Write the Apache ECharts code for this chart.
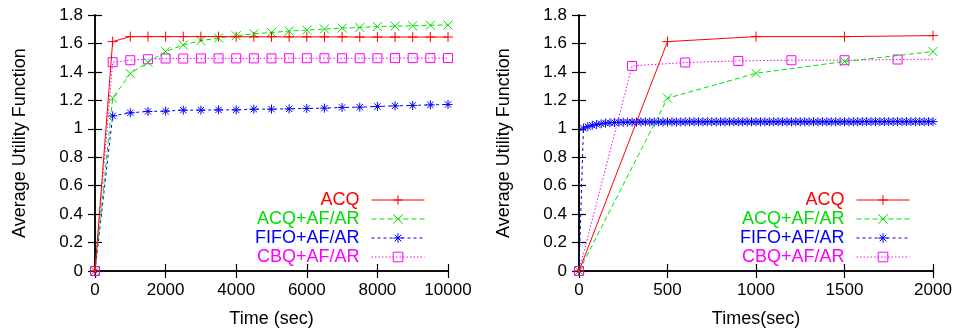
<!DOCTYPE html>
<html>
<head>
<meta charset="utf-8">
<script src="https://cdn.jsdelivr.net/npm/echarts@6/dist/echarts.min.js"></script>
<style>
  html, body { margin: 0; padding: 0; background: #fff; }
  #chart { width: 960px; height: 333px; }
</style>
</head>
<body>
<div id="chart"></div>
<script>
// left panel: samples every 500 s
const leftTimes = [0, 500, 1000, 1500, 2000, 2500, 3000, 3500, 4000, 4500, 5000,
  5500, 6000, 6500, 7000, 7500, 8000, 8500, 9000, 9500, 10000];
const leftAcq = [0, 1.613, 1.648, 1.648, 1.648, 1.648, 1.648, 1.648, 1.647, 1.647, 1.647,
  1.646, 1.646, 1.646, 1.646, 1.645, 1.645, 1.645, 1.645, 1.645, 1.645];
const leftAcqAf = [0, 1.215, 1.388, 1.468, 1.543, 1.589, 1.62, 1.638, 1.654, 1.668, 1.677,
  1.687, 1.694, 1.701, 1.708, 1.712, 1.719, 1.722, 1.724, 1.728, 1.73];
const leftFifo = [0, 1.091, 1.112, 1.122, 1.124, 1.131, 1.131, 1.133, 1.133, 1.138, 1.138,
  1.14, 1.143, 1.145, 1.15, 1.152, 1.157, 1.161, 1.164, 1.168, 1.171];
const leftCbq = [0, 1.468, 1.482, 1.489, 1.494, 1.494, 1.495, 1.495, 1.495, 1.495, 1.495,
  1.496, 1.496, 1.496, 1.496, 1.496, 1.496, 1.497, 1.497, 1.497, 1.497];

// right panel
const rightTimes = [0, 500, 1000, 1500, 2000];
const rightAcq = [0, 1.613, 1.648, 1.648, 1.655];
const rightAcqAf = [0, 1.215, 1.39, 1.473, 1.543];
const rightCbqTimes = [0, 300, 600, 900, 1200, 1500, 1800, 2100];
const rightCbq = [0, 1.442, 1.466, 1.477, 1.482, 1.482, 1.487, 1.49];
const rightFifoTimes = [0, 25, 50, 75, 100, 125, 150, 175, 200, 225, 250, 275, 300, 325, 350,
  375, 400, 425, 450, 475, 500, 525, 550, 575, 600, 625, 650, 675, 700, 725, 750, 775, 800,
  825, 850, 875, 900, 925, 950, 975, 1000, 1025, 1050, 1075, 1100, 1125, 1150, 1175, 1200,
  1225, 1250, 1275, 1300, 1325, 1350, 1375, 1400, 1425, 1450, 1475, 1500, 1525, 1550, 1575,
  1600, 1625, 1650, 1675, 1700, 1725, 1750, 1775, 1800, 1825, 1850, 1875, 1900, 1925, 1950,
  1975, 2000];
const rightFifo = [0, 1.005, 1.015, 1.025, 1.03, 1.035, 1.04, 1.042, 1.044, 1.045, 1.046,
  1.047, 1.047, 1.047, 1.048, 1.048, 1.048, 1.048, 1.048, 1.048, 1.048, 1.048, 1.048, 1.048,
  1.049, 1.049, 1.049, 1.049, 1.049, 1.049, 1.049, 1.049, 1.049, 1.049, 1.049, 1.049, 1.049,
  1.049, 1.049, 1.049, 1.049, 1.049, 1.049, 1.049, 1.049, 1.049, 1.049, 1.049, 1.049, 1.049,
  1.049, 1.049, 1.049, 1.049, 1.049, 1.049, 1.049, 1.049, 1.049, 1.049, 1.049, 1.049, 1.049,
  1.049, 1.05, 1.05, 1.05, 1.05, 1.05, 1.05, 1.05, 1.05, 1.05, 1.05, 1.05, 1.05, 1.05, 1.05,
  1.05, 1.05, 1.05];

const names = ['ACQ', 'ACQ+AF/AR', 'FIFO+AF/AR', 'CBQ+AF/AR'];
const colors = ['#ff0000', '#00e000', '#0000ff', '#ff00ff'];

const FONT = "'Liberation Sans', Arial, sans-serif";
const SYM = {
  plus: 'path://M0,5L10,5M5,0L5,10',
  cross: 'path://M0,0L10,10M10,0L0,10',
  star: 'path://M0,5L10,5M5,0L5,10M1.5,1.5L8.5,8.5M8.5,1.5L1.5,8.5',
  box: 'path://M0,0L10,0L10,10L0,10Z'
};
const styles = [
  { symbol: SYM.plus, size: 10, type: 'solid' },
  { symbol: SYM.cross, size: 9, type: [5, 3] },
  { symbol: SYM.star, size: 9, type: [3, 3] },
  { symbol: SYM.box, size: 9, type: [1.5, 2] }
];

const pairs = (xs, ys) => xs.map((x, i) => [x, ys[i]]);

function mkSeries(k, idx, data) {
  return {
    name: names[k],
    type: 'line',
    xAxisIndex: idx * 2,
    yAxisIndex: idx * 2,
    data: data,
    symbol: styles[k].symbol,
    symbolSize: styles[k].size,
    showAllSymbol: true,
    lineStyle: { color: colors[k], width: 1, type: styles[k].type },
    itemStyle: { color: 'rgba(0,0,0,0)', borderColor: colors[k], borderWidth: 1 },
    emphasis: { disabled: true },
    z: 10 - k
  };
}

const grids = [
  { left: 95, right: 512, top: 15, bottom: 60 },
  { left: 579, right: 27, top: 15, bottom: 60 }
];

const xCfg = [
  { max: 10000, interval: 2000, name: 'Time (sec)' },
  { max: 2000, interval: 500, name: 'Times(sec)' }
];

const xAxis = [], yAxis = [];
[0, 1].forEach(i => {
  xAxis.push({
    type: 'value', gridIndex: i, min: 0, max: xCfg[i].max, interval: xCfg[i].interval,
    name: xCfg[i].name, nameLocation: 'middle', nameGap: 39,
    nameTextStyle: { fontFamily: FONT, fontSize: 18, color: '#000' },
    axisLine: { show: true, onZero: false, lineStyle: { color: '#000', width: 1.5 } },
    axisTick: { inside: true, length: 7, lineStyle: { color: '#000', width: 1.2 } },
    axisLabel: { fontFamily: FONT, fontSize: 17, color: '#000', margin: 11, formatter: v => String(v) },
    splitLine: { show: false }
  });
  xAxis.push({
    type: 'value', gridIndex: i, position: 'top', min: 0, max: xCfg[i].max, interval: xCfg[i].interval,
    axisLine: { show: true, lineStyle: { color: '#000', width: 1.5 } },
    axisTick: { inside: true, length: 7, lineStyle: { color: '#000', width: 1.2 } },
    axisLabel: { show: false },
    splitLine: { show: false }
  });
  yAxis.push({
    type: 'value', gridIndex: i, min: 0, max: 1.8, interval: 0.2,
    name: 'Average Utility Function', nameLocation: 'middle', nameGap: 66,
    nameTextStyle: { fontFamily: FONT, fontSize: 18, color: '#000' },
    axisLine: { show: true, onZero: false, lineStyle: { color: '#000', width: 1.5 } },
    axisTick: { inside: true, length: 7, lineStyle: { color: '#000', width: 1.2 } },
    axisLabel: {
      fontFamily: FONT, fontSize: 17, color: '#000', margin: 12,
      formatter: v => String(+v.toFixed(1))
    },
    splitLine: { show: false }
  });
  yAxis.push({
    type: 'value', gridIndex: i, position: 'right', min: 0, max: 1.8, interval: 0.2,
    axisLine: { show: true, lineStyle: { color: '#000', width: 1.5 } },
    axisTick: { inside: true, length: 7, lineStyle: { color: '#000', width: 1.2 } },
    axisLabel: { show: false },
    splitLine: { show: false }
  });
});

const series = [
  mkSeries(0, 0, pairs(leftTimes, leftAcq)),
  mkSeries(1, 0, pairs(leftTimes, leftAcqAf)),
  mkSeries(2, 0, pairs(leftTimes, leftFifo)),
  mkSeries(3, 0, pairs(leftTimes, leftCbq)),
  mkSeries(0, 1, pairs(rightTimes, rightAcq)),
  mkSeries(1, 1, pairs(rightTimes, rightAcqAf)),
  mkSeries(2, 1, pairs(rightFifoTimes, rightFifo)),
  mkSeries(3, 1, pairs(rightCbqTimes, rightCbq))
];

function mkLegend(right) {
  return {
    orient: 'vertical', right: right, top: 191, align: 'right',
    itemWidth: 53, itemHeight: 12, itemGap: 1,
    padding: 0, selectedMode: false,
    lineStyle: { width: 1 },
    itemStyle: { borderWidth: 1 },
    textStyle: { fontFamily: FONT, fontSize: 18, lineHeight: 16, padding: [0, 7, 0, 0] },
    data: names.map((n, k) => ({ name: n, textStyle: { color: colors[k] } }))
  };
}

const chart = echarts.init(document.getElementById('chart'), null, { renderer: 'canvas' });
chart.setOption({
  animation: false,
  backgroundColor: '#fff',
  grid: grids,
  xAxis: xAxis,
  yAxis: yAxis,
  legend: [mkLegend(535), mkLegend(50)],
  series: series
});
</script>
</body>
</html>
